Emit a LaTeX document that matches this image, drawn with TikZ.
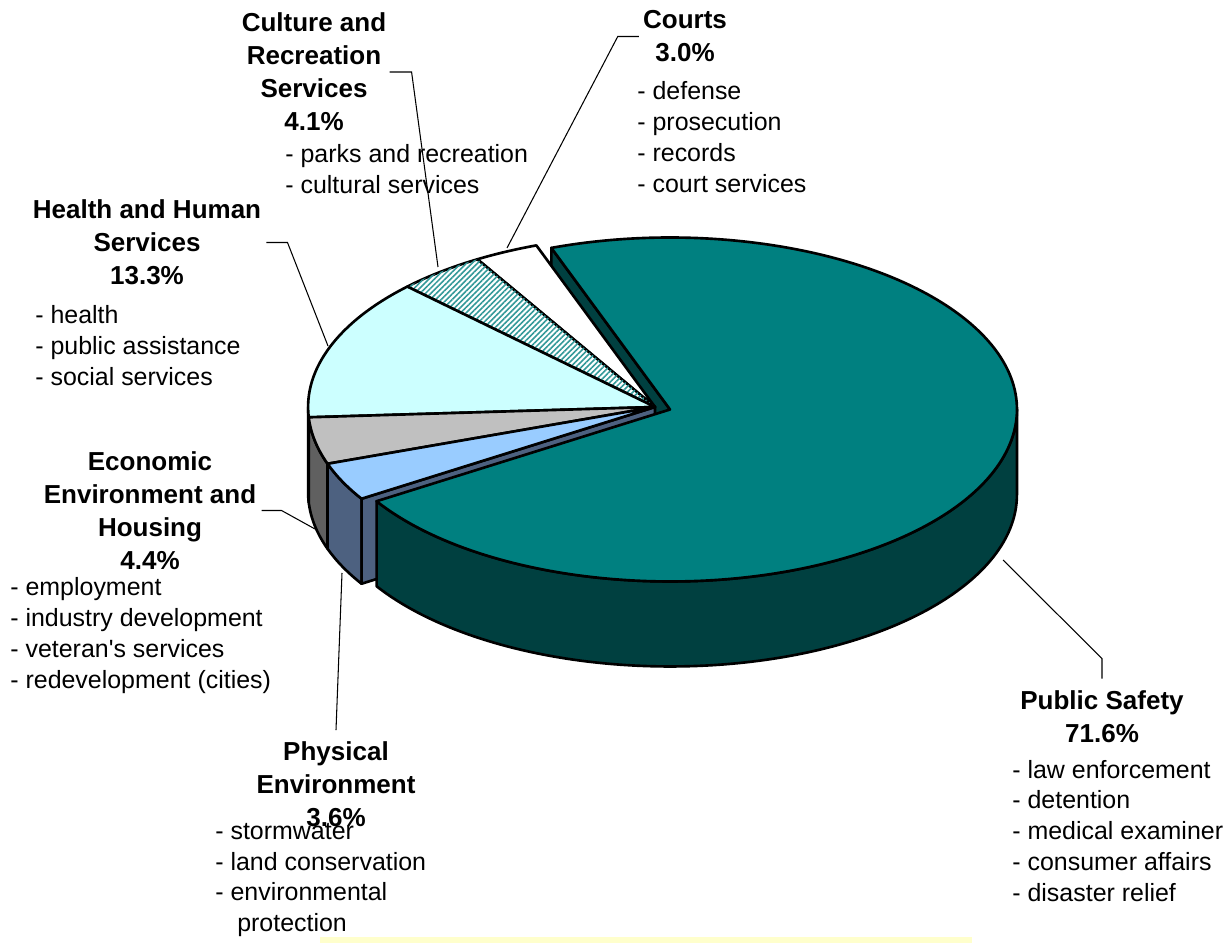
\documentclass[tikz,border=0pt]{standalone}
\usepackage{fontspec}
\setmainfont{Liberation Sans}[Ligatures=TeXOff]
\usepackage{tikz}
\usetikzlibrary{calc}
\usetikzlibrary{patterns.meta}
\definecolor{safetytop}{RGB}{0,128,128}
\definecolor{safetyside}{RGB}{0,64,64}
\definecolor{healthtop}{RGB}{204,255,255}
\definecolor{healthside}{RGB}{102,128,128}
\definecolor{econtop}{RGB}{192,192,192}
\definecolor{econside}{RGB}{96,96,96}
\definecolor{phystop}{RGB}{153,204,255}
\definecolor{physside}{RGB}{77,97,128}
\definecolor{hatch}{RGB}{51,153,153}
\definecolor{notebar}{RGB}{255,255,204}
\tikzstyle{slice} = [draw=black, line width=1.5pt, line join=round]
\tikzstyle{title} = [font=\fontsize{14.8}{18.8}\selectfont\bfseries, align=center, inner sep=0pt]
\tikzstyle{items} = [font=\fontsize{14.2}{17.6}\selectfont, align=left, anchor=west, inner sep=0pt]
\tikzstyle{leader} = [line width=0.6pt, black]

\begin{document}
\begin{tikzpicture}[x=0.02cm, y=0.02cm]
    \useasboundingbox (0,0) rectangle (1230,943);
    \def\rx{6.94cm}
    \def\ry{3.44cm}
    \coordinate (M) at (655,536);
    \coordinate (Mb) at (655,451);
    \coordinate (P) at (670,533.5);
    \coordinate (Pb) at (670,448.5);

    % back wall of the pulled out slice
    \draw[slice, fill=safetyside] (P) -- ($(P)+(110:6.94cm and 3.44cm)$) -- ++(0,-85) -- (Pb) -- cycle;

    % sides of the small slices
    \draw[slice, fill=healthside] ($(M)+(180:6.94cm and 3.44cm)$) arc[start angle=180, end angle=183.44, x radius=\rx, y radius=\ry] -- ++(0,-85) arc[start angle=183.44, end angle=180, x radius=\rx, y radius=\ry] -- cycle;
    \draw[slice, fill=econside] ($(M)+(183.44:6.94cm and 3.44cm)$) arc[start angle=183.44, end angle=199.28, x radius=\rx, y radius=\ry] -- ++(0,-85) arc[start angle=199.28, end angle=183.44, x radius=\rx, y radius=\ry] -- cycle;
    \draw[slice, fill=physside] ($(M)+(199.28:6.94cm and 3.44cm)$) arc[start angle=199.28, end angle=212.24, x radius=\rx, y radius=\ry] -- ++(0,-85) arc[start angle=212.24, end angle=199.28, x radius=\rx, y radius=\ry] -- cycle;
    \draw[slice, fill=physside] (M) -- ($(M)+(212.24:6.94cm and 3.44cm)$) -- ++(0,-85) -- (Mb) -- cycle;

    % tops of the small slices
    \draw[slice, fill=white] (M) -- ($(M)+(110:6.94cm and 3.44cm)$) arc[start angle=110, end angle=120.8, x radius=\rx, y radius=\ry] -- cycle;
    \draw[slice, fill=white, postaction={pattern={Lines[angle=45, distance=2.2pt, line width=0.9pt]}, pattern color=hatch}] (M) -- ($(M)+(120.8:6.94cm and 3.44cm)$) arc[start angle=120.8, end angle=135.56, x radius=\rx, y radius=\ry] -- cycle;
    \draw[slice, fill=healthtop] (M) -- ($(M)+(135.56:6.94cm and 3.44cm)$) arc[start angle=135.56, end angle=183.44, x radius=\rx, y radius=\ry] -- cycle;
    \draw[slice, fill=econtop] (M) -- ($(M)+(183.44:6.94cm and 3.44cm)$) arc[start angle=183.44, end angle=199.28, x radius=\rx, y radius=\ry] -- cycle;
    \draw[slice, fill=phystop] (M) -- ($(M)+(199.28:6.94cm and 3.44cm)$) arc[start angle=199.28, end angle=212.24, x radius=\rx, y radius=\ry] -- cycle;

    % pulled out slice
    \draw[slice, fill=safetyside] ($(P)+(212.24:6.94cm and 3.44cm)$) arc[start angle=212.24, end angle=360, x radius=\rx, y radius=\ry] -- ++(0,-85) arc[start angle=360, end angle=212.24, x radius=\rx, y radius=\ry] -- cycle;
    \draw[slice, fill=safetytop] (P) -- ($(P)+(212.24:6.94cm and 3.44cm)$) arc[start angle=212.24, end angle=470, x radius=\rx, y radius=\ry] -- cycle;

    % yellow strip at the bottom
    \fill[notebar] (320,0) rectangle (972,6);

    % labels
    \node[title] (culture) at (314,871) {Culture and\\Recreation\\Services\\4.1\%};
    \node[items] (cultureitems) at (285,774) {- parks and recreation\\- cultural services};

    \node[title] (courts) at (685,906.5) {Courts\\3.0\%};
    \node[items] (courtsitems) at (637,806) {- defense\\- prosecution\\- records\\- court services};

    \node[title] (health) at (147,700.5) {Health and Human\\Services\\13.3\%};
    \node[items] (healthitems) at (35,597) {- health\\- public assistance\\- social services};

    \node[title] (econ) at (150,432.5) {Economic\\Environment and\\Housing\\4.4\%};
    \node[items] (econitems) at (10,307.5) {- employment\\- industry development\\- veteran's services\\- redevelopment (cities)};

    \node[title] (phys) at (336,159) {Physical\\Environment\\3.6\%};
    \node[items] (physitems) at (215,63) {- stormwater\\- land conservation\\- environmental\\\hspace*{0.88em}protection};

    \node[title] (safety) at (1102,226) {Public Safety\\71.6\%};
    \node[items] (safetyitems) at (1012,112) {- law enforcement\\- detention\\- medical examiner\\- consumer affairs\\- disaster relief};

    % leader lines
    \coordinate (culturetip) at (438,676);
    \coordinate (courtstip) at (507,695);
    \coordinate (healthtip) at (328,597);
    \coordinate (econtip) at (315,414);
    \coordinate (phystip) at (342,370);
    \coordinate (safetytip) at (1003,383);
    \draw[leader] ([xshift=0.06cm]culture.east) -- ++(22,0) -- (culturetip);
    \draw[leader] ([xshift=-0.08cm]courts.west) -- ++(-21,0) -- (courtstip);
    \draw[leader] ([xshift=0.1cm]health.east) -- ++(21,0) -- (healthtip);
    \draw[leader] ([xshift=0.1cm]econ.east) -- ++(20,0) -- (econtip);
    \draw[leader] ([yshift=0.22cm]phys.north) -- (phystip);
    \draw[leader] ([yshift=0.24cm]safety.north) -- ++(0,20) -- (safetytip);
\end{tikzpicture}
\end{document}
